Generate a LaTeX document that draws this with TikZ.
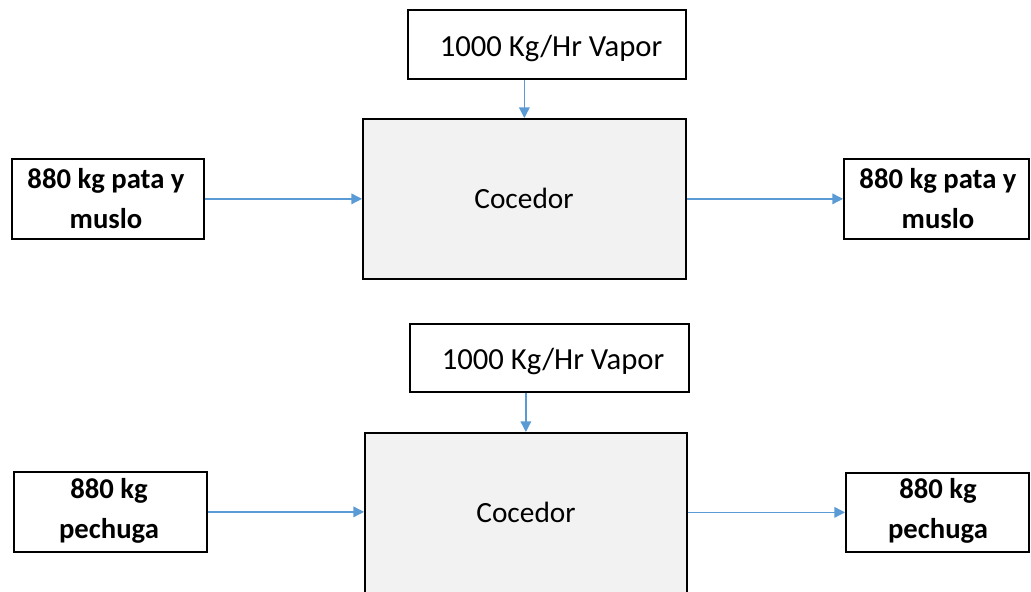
\documentclass[tikz,border=0pt]{standalone}
\usepackage{fontspec}
\setmainfont{Carlito}
\usetikzlibrary{arrows.meta}
\definecolor{arrblue}{HTML}{5B9BD5}
\definecolor{boxgray}{HTML}{F2F2F2}
\begin{document}
\begin{tikzpicture}[x=0.75pt,y=-0.75pt,
  blk/.style={draw=black,line width=1.3pt,inner sep=0pt,anchor=north west},
  sidetxt/.style={font=\fontsize{21.5}{30}\selectfont\bfseries,align=center},
  vtxt/.style={font=\fontsize{23}{26}\selectfont},
  ctxt/.style={font=\fontsize{22}{26}\selectfont},
  arr/.style={draw=arrblue,line width=1pt,-{Triangle[length=8pt,width=8pt]}}]
\useasboundingbox (0,0) rectangle (1031,592);
\clip (0,0) rectangle (1031,592);
% top diagram
\node[blk,minimum width=278*0.75pt,minimum height=69*0.75pt] (v1) at (407,9) {};
\node[vtxt] (v1t) at (551,48) {1000 Kg/Hr Vapor};
\node[blk,fill=boxgray,minimum width=323*0.75pt,minimum height=160*0.75pt] (c1) at (362,118) {};
\node[ctxt] (c1t) at (524,198) {Cocedor};
\node[blk,minimum width=192*0.75pt,minimum height=80*0.75pt] (l1) at (11,158) {};
\node[sidetxt] (l1t) at (106,199) {880 kg pata y\\muslo};
\node[blk,minimum width=185*0.75pt,minimum height=80*0.75pt] (r1) at (843,158) {};
\node[sidetxt] (r1t) at (938,199) {880 kg pata y\\muslo};
\draw[arr] (v1.south -| c1.north) -- (c1.north);
\draw[arr] (l1.east) -- (c1.west |- l1.east);
\draw[arr] (c1.east |- r1.west) -- (r1.west);
% bottom diagram
\node[blk,minimum width=279*0.75pt,minimum height=68*0.75pt] (v2) at (409,323) {};
\node[vtxt] (v2t) at (553,361) {1000 Kg/Hr Vapor};
\node[blk,fill=boxgray,minimum width=322*0.75pt,minimum height=162*0.75pt] (c2) at (364,432) {};
\node[ctxt] (c2t) at (526,512) {Cocedor};
\node[blk,minimum width=193*0.75pt,minimum height=80*0.75pt] (l2) at (13,471) {};
\node[sidetxt] (l2t) at (109,511) {880 kg\\pechuga};
\node[blk,minimum width=183*0.75pt,minimum height=79*0.75pt] (r2) at (845,472) {};
\node[sidetxt] (r2t) at (938,511) {880 kg\\pechuga};
\draw[arr] (v2.south -| c2.north) -- (c2.north);
\draw[arr] (l2.east) -- (c2.west |- l2.east);
\draw[arr] (c2.east |- r2.west) -- (r2.west);
\end{tikzpicture}
\end{document}
